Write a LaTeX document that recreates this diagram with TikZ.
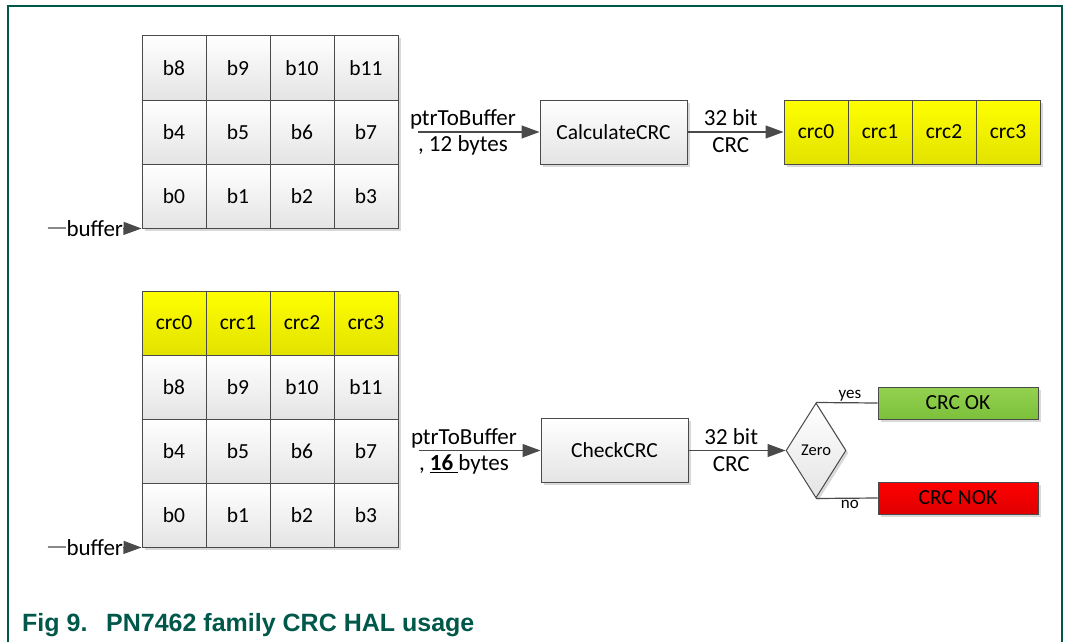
\documentclass[tikz,border=0pt]{standalone}
\usepackage{fontspec}
\setmainfont{Carlito}
\newfontfamily\capfont{Liberation Sans}
\usetikzlibrary{shapes.geometric,arrows.meta,shadows}
\definecolor{nxpgreen}{HTML}{00584A}
\definecolor{linegray}{HTML}{4A4A4A}
\definecolor{cellgray}{HTML}{E4E4E4}
\definecolor{yeltop}{HTML}{FFFF00}
\definecolor{yelbot}{HTML}{E2E200}
\definecolor{grntop}{HTML}{94D150}
\definecolor{grnbot}{HTML}{7CC03A}
\definecolor{redtop}{HTML}{FF0000}
\definecolor{redbot}{HTML}{E00000}
\begin{document}
\begin{tikzpicture}[x=1pt,y=-1pt,
  txt/.style={font=\fontsize{21.5}{25}\selectfont},
  btxt/.style={font=\fontsize{23}{27}\selectfont},
  shd/.style={drop shadow={shadow xshift=2.5pt,shadow yshift=-2.5pt,opacity=0.15,fill=black}},
  cell/.style={txt,draw=linegray,line width=1pt,minimum width=64pt,minimum height=64pt,inner sep=0pt,top color=white,bottom color=cellgray,shd},
  ycell/.style={cell,top color=yeltop,bottom color=yelbot},
  funcbox/.style={txt,draw=linegray,line width=1pt,minimum width=147pt,minimum height=64pt,inner sep=0pt,top color=white,bottom color=cellgray,shd},
  resbox/.style={txt,draw=linegray,line width=1pt,minimum width=160pt,minimum height=32pt,inner sep=0pt,shd},
  conn/.style={draw=linegray,line width=1.2pt,-{Triangle[length=18pt,width=13pt]}},
  plain/.style={draw=linegray,line width=1.2pt},
  lbl/.style={btxt,inner sep=1pt},
  slbl/.style={font=\fontsize{17}{20}\selectfont,inner sep=1pt},
  frame/.style={draw=nxpgreen,line width=2pt},
  captxt/.style={font=\capfont\bfseries\fontsize{25}{29}\selectfont,text=nxpgreen,inner sep=0pt,anchor=base west}]
\useasboundingbox (0,0) rectangle (1068,642);
\draw[frame] (8,642) -- (8,6) -- (1062,6) -- (1062,642);

% ---------- top part ----------
\foreach \r/\y in {2/68,1/132,0/196}{
  \foreach \c in {0,...,3}{
    \pgfmathtruncatemacro\k{4*\r+\c}
    \node[cell] (t\k) at ({174+64*\c},\y) {b\k};
  }
}
\coordinate (tb) at (48,228);
\draw[conn] (tb) -- node[btxt,fill=white,inner sep=0.5pt,pos=0.5]{buffer} (t0.south west);

\node[funcbox] (calc) at (613.5,132) {CalculateCRC};
\coordinate (tp) at (418,132);
\draw[conn] (tp) -- node[lbl,pos=0.37,yshift=13pt]{ptrToBuffer} node[lbl,pos=0.37,yshift=-13pt]{, 12 bytes} (calc.west);

\foreach \c in {0,...,3}{
  \node[ycell] (c\c) at ({816+64*\c},132) {crc\c};
}
\draw[conn] (calc.east) -- node[lbl,pos=0.45,yshift=14pt]{32 bit} node[lbl,pos=0.45,yshift=-13pt]{CRC} (c0.west);

% ---------- bottom part ----------
\foreach \c in {0,...,3}{
  \node[ycell] (uc\c) at ({174+64*\c},323) {crc\c};
}
\foreach \r/\y in {2/387,1/451,0/515}{
  \foreach \c in {0,...,3}{
    \pgfmathtruncatemacro\k{4*\r+\c}
    \node[cell] (u\k) at ({174+64*\c},\y) {b\k};
  }
}
\coordinate (ub) at (48,547);
\draw[conn] (ub) -- node[btxt,fill=white,inner sep=0.5pt,pos=0.5]{buffer} (u0.south west);

\node[funcbox] (check) at (614.5,450.5) {CheckCRC};
\coordinate (up) at (419,450.5);
\draw[conn] (up) -- node[lbl,pos=0.37,yshift=12.5pt]{ptrToBuffer} node[lbl,pos=0.37,yshift=-14pt]{, \underline{\textbf{16}\ }bytes} (check.west);

\node[diamond,draw=linegray,line width=1pt,minimum width=60pt,minimum height=95pt,inner sep=0pt,aspect=1,top color=white,bottom color=cellgray,shd,font=\fontsize{16.5}{19}\selectfont] (zero) at (816,450.5) {Zero};
\draw[conn] (check.east) -- node[lbl,pos=0.44,yshift=13.5pt]{32 bit} node[lbl,pos=0.44,yshift=-13.5pt]{CRC} (zero.west);

\node[resbox,top color=grntop,bottom color=grnbot] (ok) at (958,403) {CRC OK};
\node[resbox,top color=redtop,bottom color=redbot] (nok) at (958,498) {CRC NOK};
\draw[plain] (zero.north) -- node[slbl,above,pos=0.55]{yes} (ok.west);
\draw[plain] (zero.south) -- node[slbl,below,pos=0.55]{no} (nok.west);

% ---------- caption ----------
\node[captxt] (fig) at (22,631) {Fig 9.};
\node[captxt] (cap) at (106,631) {PN7462 family CRC HAL usage};
\end{tikzpicture}
\end{document}
